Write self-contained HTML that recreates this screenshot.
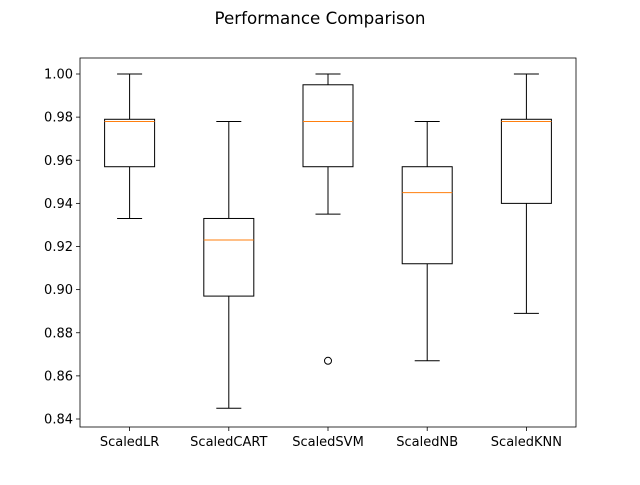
<!DOCTYPE html>
<html><head><meta charset="utf-8"><style>body{margin:0;background:#fff}</style></head>
<body>
<svg id="chart" width="640" height="480" xmlns="http://www.w3.org/2000/svg" font-family="DejaVu Sans, Liberation Sans, sans-serif">
<rect width="640" height="480" fill="#fff"/>
<text x="320" y="24" text-anchor="middle" font-size="16.7">Performance Comparison</text>
<g id="plot"></g>
</svg>
<script>
const categories = ["ScaledLR","ScaledCART","ScaledSVM","ScaledNB","ScaledKNN"];
const whiskerLow = [0.933,0.845,0.935,0.867,0.889];
const q1 = [0.957,0.897,0.957,0.912,0.940];
const medians = [0.978,0.923,0.978,0.945,0.978];
const q3 = [0.979,0.933,0.995,0.957,0.979];
const whiskerHigh = [1.0,0.978,1.0,0.978,1.0];
const fliers = [[],[],[0.867],[],[]];
const yTicks = [0.84,0.86,0.88,0.90,0.92,0.94,0.96,0.98,1.00];

const L=80,R=576,T=58,B=427;
const y = v => 74 + (1.0 - v) / 0.16 * 345;
const x = i => L + (i + 0.5) * (R - L) / categories.length;
const g = document.getElementById('plot');
const NS='http://www.w3.org/2000/svg';
function mk(tag, attrs){const e=document.createElementNS(NS,tag);for(const k in attrs)e.setAttribute(k,attrs[k]);g.appendChild(e);return e;}

yTicks.forEach(t=>{
  const tk=mk('line',{x1:L-4,x2:L,y1:y(t),y2:y(t),stroke:'#000','stroke-width':0.8});
  
  
  const tx=mk('text',{x:L-7,y:y(t)+4.5,'text-anchor':'end','font-size':13});
  tx.textContent=t.toFixed(2);
  
  
});
categories.forEach((c,i)=>{
  const cx=x(i), hw=25, cw=12.5;
  const grp=document.createElementNS(NS,'g');g.appendChild(grp);
  
  
  const add=(tag,a)=>{const e=document.createElementNS(NS,tag);for(const k in a)e.setAttribute(k,a[k]);grp.appendChild(e);return e;};
  add('line',{x1:cx,x2:cx,y1:y(whiskerLow[i]),y2:y(q1[i]),stroke:'#000'});
  add('line',{x1:cx,x2:cx,y1:y(q3[i]),y2:y(whiskerHigh[i]),stroke:'#000'});
  add('line',{x1:cx-cw,x2:cx+cw,y1:y(whiskerLow[i]),y2:y(whiskerLow[i]),stroke:'#000'});
  add('line',{x1:cx-cw,x2:cx+cw,y1:y(whiskerHigh[i]),y2:y(whiskerHigh[i]),stroke:'#000'});
  add('rect',{x:cx-hw,y:y(q3[i]),width:2*hw,height:y(q1[i])-y(q3[i]),fill:'none',stroke:'#000'});
  add('line',{x1:cx-hw,x2:cx+hw,y1:y(medians[i]),y2:y(medians[i]),stroke:'#ff7f0e'});
  fliers[i].forEach(f=>add('circle',{cx:cx,cy:y(f),r:3.5,fill:'none',stroke:'#000'}));
  const tk=mk('line',{x1:cx,x2:cx,y1:B,y2:B+4,stroke:'#000','stroke-width':0.8});
  
  
  const tx=mk('text',{x:cx,y:B+19,'text-anchor':'middle','font-size':13});
  tx.textContent=c;
  
  
});
const frame=mk('rect',{x:L,y:T,width:R-L,height:B-T,fill:'none',stroke:'#000','stroke-width':0.8});


</script>
</body></html>
